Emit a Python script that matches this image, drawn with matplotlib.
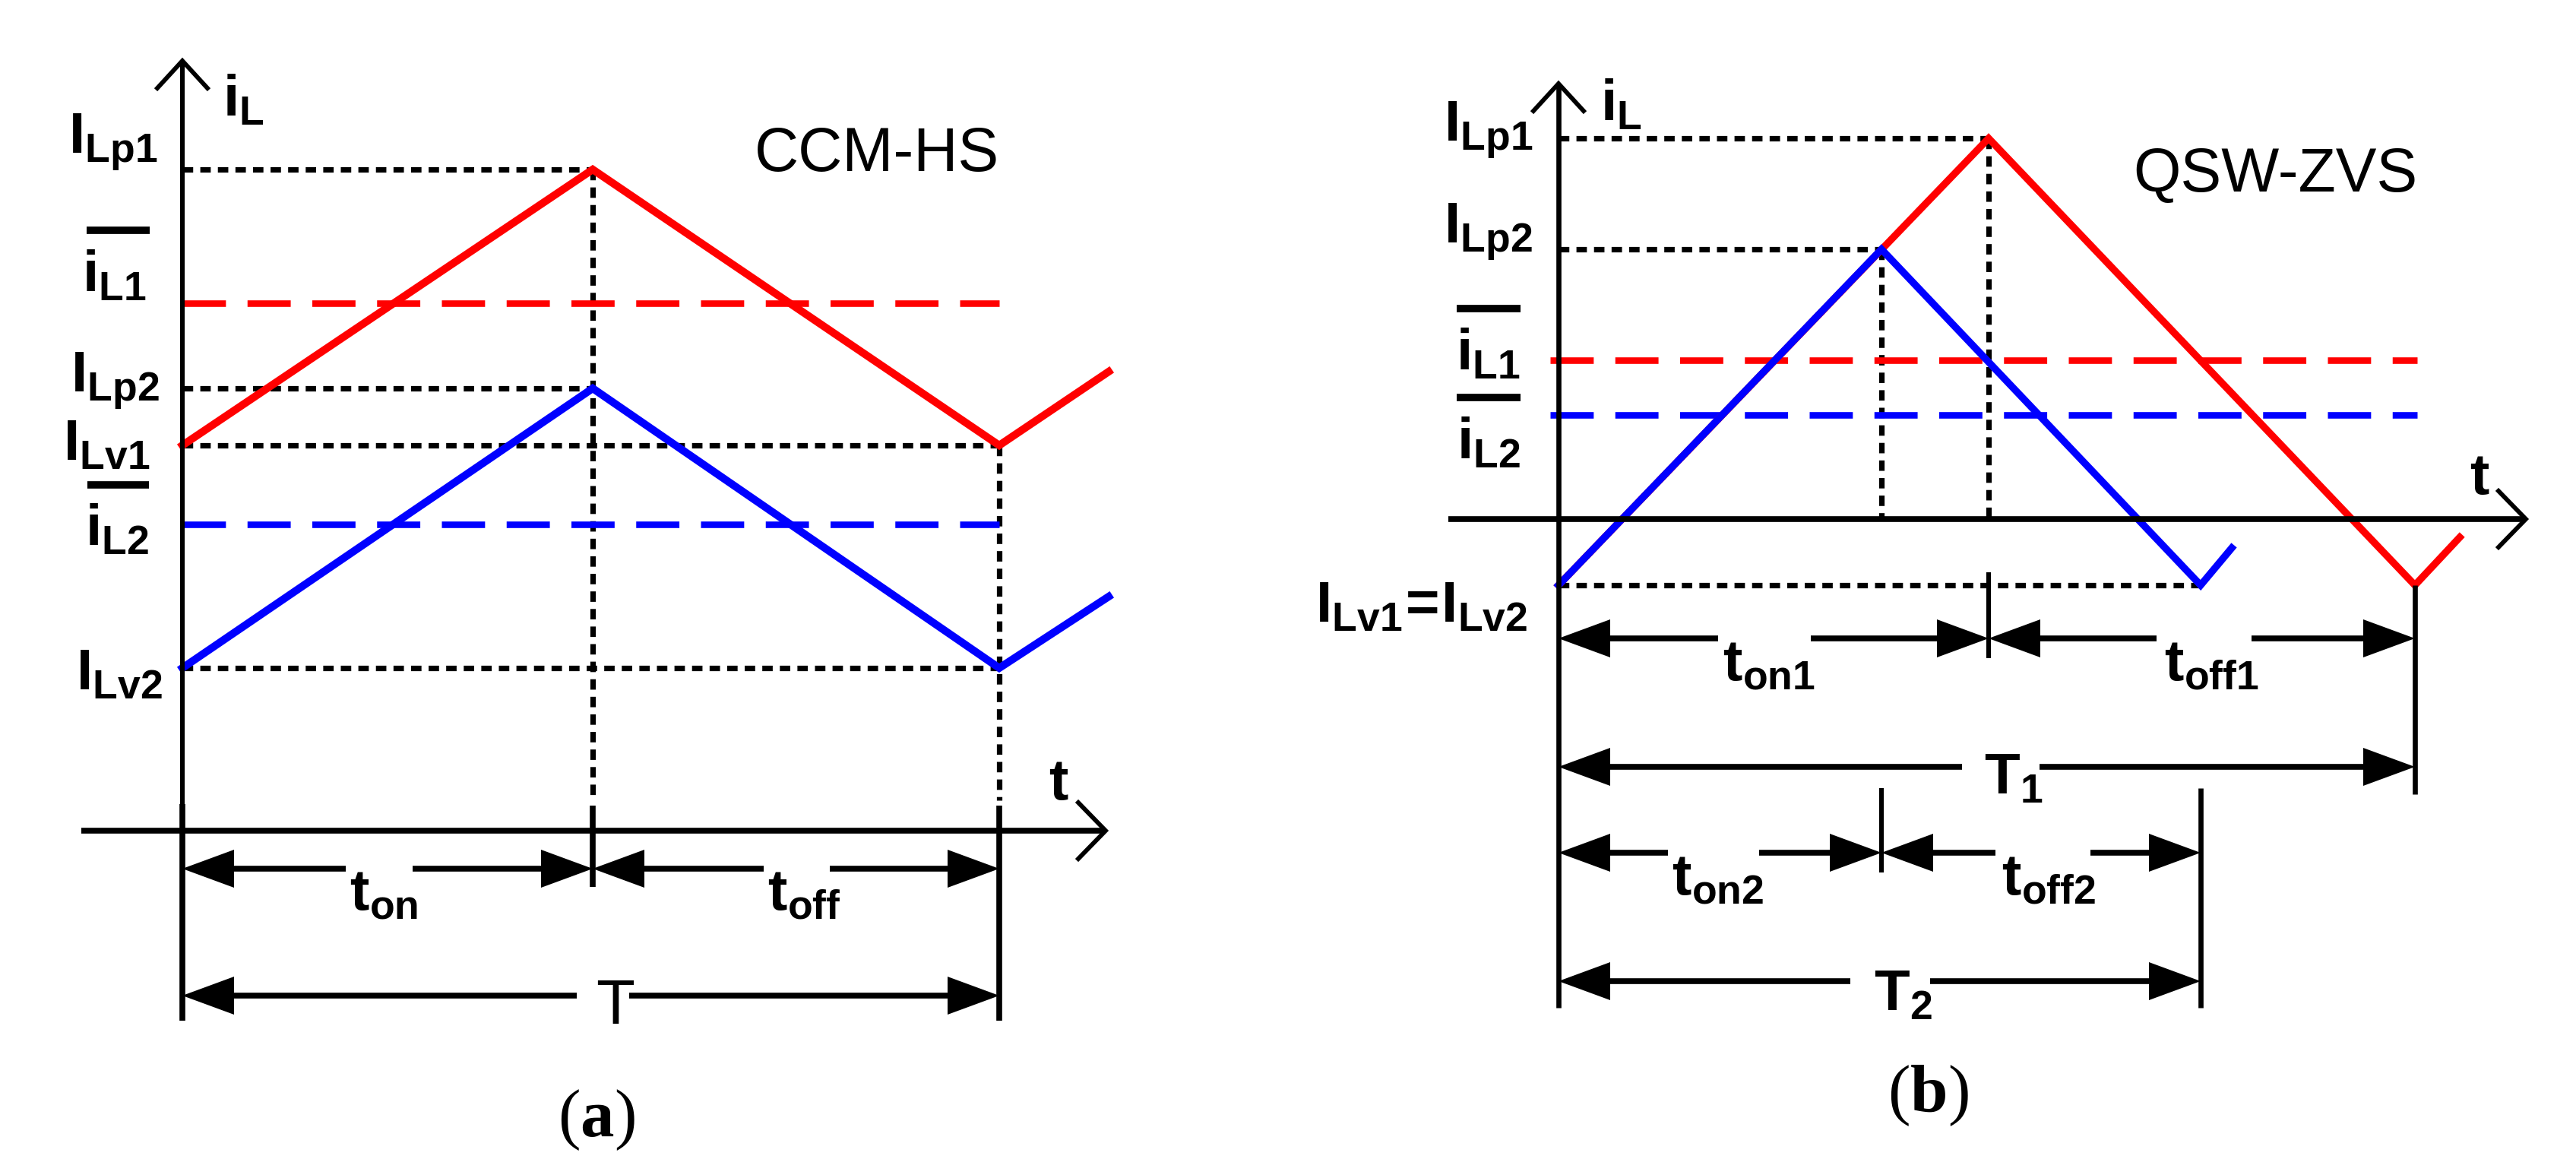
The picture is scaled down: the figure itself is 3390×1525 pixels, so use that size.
import matplotlib
matplotlib.use('Agg')
import matplotlib.pyplot as plt
from matplotlib import font_manager


def has_font(name):
    try:
        font_manager.findfont(font_manager.FontProperties(family=name),
                              fallback_to_default=False)
        return True
    except ValueError:
        return False


NARROW = has_font('Liberation Sans Narrow')
LABEL_FONT = 'Liberation Sans Narrow' if NARROW else 'Liberation Sans'
FS = 60 if NARROW else 55

plt.rcParams['mathtext.fontset'] = 'custom'
plt.rcParams['mathtext.sf'] = LABEL_FONT + ':bold'
plt.rcParams['mathtext.rm'] = 'Liberation Serif'
plt.rcParams['mathtext.bf'] = 'Liberation Serif:bold'
plt.rcParams['mathtext.it'] = LABEL_FONT + ':bold'

# ---- data, in units of the drawing (1 unit = 100 px of the original) ----
# (a) CCM-HS : start, t_on, T, a bit of the next period
a_time = [0.0, 5.40, 10.75, 12.19]
a_red = [5.07, 8.70, 5.07, 6.04]     # I_Lv1 -> I_Lp1 -> I_Lv1
a_blue = [2.14, 5.82, 2.14, 3.08]    # I_Lv2 -> I_Lp2 -> I_Lv2
a_avg = [6.94, 4.03]                 # mean i_L1, mean i_L2
a_labels = [r'$\mathsf{I_{Lp1}}$', r'$\mathsf{I_{Lp2}}$',
            r'$\mathsf{I_{Lv1}}$', r'$\mathsf{I_{Lv2}}$']
a_avg_labels = [r'$\mathsf{i_{L1}}$', r'$\mathsf{i_{L2}}$']

# (b) QSW-ZVS
b_time_red = [0.0, 5.66, 11.27, 11.86]
b_red = [-0.87, 5.01, -0.87, -0.24]
b_time_blue = [0.0, 4.25, 8.45, 8.86]
b_blue = [-0.87, 3.55, -0.87, -0.38]
b_avg = [2.09, 1.37]
b_labels = [r'$\mathsf{I_{Lp1}}$', r'$\mathsf{I_{Lp2}}$',
            r'$\mathsf{I_{Lv1}\!=\!I_{Lv2}}$']
b_avg_labels = [r'$\mathsf{i_{L1}}$', r'$\mathsf{i_{L2}}$']

RED = '#ff0000'
BLUE = '#0000ff'
W, H = 3390, 1525

fig = plt.figure(figsize=(W / 100, H / 100), dpi=100)


def panel_axes(x0, y0):
    # one unit = 100 px, origin at the crossing of the two axes
    ax = fig.add_axes([0, 0, 1, 1])
    ax.set_xlim(-x0 / 100, (W - x0) / 100)
    ax.set_ylim((y0 - H) / 100, y0 / 100)
    ax.axis('off')
    return ax


def solid(ax, xs, ys, lw=5.5):
    ax.plot(xs, ys, color='k', lw=lw, solid_capstyle='butt')


def dotted(ax, xs, ys):
    ax.plot(xs, ys, color='k', lw=5.2, ls=(0, (1.9, 1.3)), dash_capstyle='butt')


def head(ax, x, y, d):
    ax.fill([x, x - d * 0.68, x - d * 0.68], [y, y + 0.25, y - 0.25],
            color='k', lw=0)


def dim(ax, x0, x1, y, g0, g1):
    solid(ax, [x0 + 0.6, g0], [y, y])
    solid(ax, [g1, x1 - 0.6], [y, y])
    head(ax, x0, y, -1)
    head(ax, x1, y, 1)


def axis_arrows(ax, xtip, ytip):
    ax.plot([xtip - 0.36, xtip, xtip - 0.36], [0.37, 0, -0.37],
            color='k', lw=4.2, solid_joinstyle='miter')
    ax.plot([-0.33, 0, 0.33], [ytip - 0.36, ytip, ytip - 0.36],
            color='k', lw=4.2, solid_joinstyle='miter')


def lab(ax, x, y, s, ha='right', va='baseline', size=FS, **kw):
    ax.text(x, y, s, ha=ha, va=va, fontsize=size, color='k', **kw)


def overbar(ax, x0, x1, y):
    ax.plot([x0, x1], [y, y], color='k', lw=7, solid_capstyle='butt')


# ================= (a) =================
ax = panel_axes(240, 1093)
t_on, T = a_time[1], a_time[2]

dotted(ax, [0, t_on], [a_red[1]] * 2)
dotted(ax, [0, t_on], [a_blue[1]] * 2)
dotted(ax, [0, T], [a_red[0]] * 2)
dotted(ax, [0, T], [a_blue[0]] * 2)
dotted(ax, [t_on] * 2, [a_red[1], 0.40])
dotted(ax, [T] * 2, [a_red[2], 0.40])

ax.plot([0, T], [a_avg[0]] * 2, color=RED, lw=6.2, ls=(0, (6.6, 3.3)))
ax.plot([0, T], [a_avg[1]] * 2, color=BLUE, lw=6.2, ls=(0, (6.6, 3.3)))
ax.plot(a_time, a_red, color=RED, lw=7.3, solid_joinstyle='miter')
ax.plot(a_time, a_blue, color=BLUE, lw=7.3, solid_joinstyle='miter')

solid(ax, [0, 0], [0.35, 10.13], lw=4.4)
solid(ax, [0, 0], [0.35, -2.50])
solid(ax, [-1.33, 12.15], [0, 0], lw=5.5)
solid(ax, [t_on] * 2, [0.33, -0.74])
solid(ax, [T] * 2, [0.33, -2.50])
axis_arrows(ax, 12.15, 10.13)

dim(ax, 0, t_on, -0.50, 2.15, 3.03)
dim(ax, t_on, T, -0.50, 7.65, 8.52)
dim(ax, 0, T, -2.17, 5.19, 5.88)

lab(ax, -0.33, 8.92, a_labels[0])
lab(ax, -0.30, 5.78, a_labels[1])
lab(ax, -0.42, 4.88, a_labels[2])
lab(ax, -0.26, 1.86, a_labels[3])
lab(ax, -0.47, 7.10, a_avg_labels[0])
overbar(ax, -1.26, -0.43, 7.90)
lab(ax, -0.44, 3.76, a_avg_labels[1])
overbar(ax, -1.25, -0.44, 4.55)
lab(ax, 0.53, 9.99, r'$\mathsf{i_L}$', ha='left', va='top')
lab(ax, 11.40, 0.41, r'$\mathsf{t}$', ha='left')
lab(ax, 2.20, -0.47, r'$\mathsf{t_{on}}$', ha='left', va='top')
lab(ax, 7.70, -0.47, r'$\mathsf{t_{off}}$', ha='left', va='top')
lab(ax, 5.70, -2.54, 'T', ha='center', family='Liberation Sans', size=60)
lab(ax, 7.53, 8.68, 'CCM-HS', ha='left', family='Liberation Sans', size=58)
lab(ax, 5.45, -3.79, r'$\mathrm{(}\mathbf{a}\mathrm{)}$', ha='center',
    va='center', size=64)

# ================= (b) =================
ax = panel_axes(2051, 683)
t_on1, T1 = b_time_red[1], b_time_red[2]
t_on2, T2 = b_time_blue[1], b_time_blue[2]

dotted(ax, [0, t_on1], [b_red[1]] * 2)
dotted(ax, [t_on1] * 2, [b_red[1], 0])
dotted(ax, [0, t_on2], [b_blue[1]] * 2)
dotted(ax, [t_on2] * 2, [b_blue[1], 0])
dotted(ax, [0, T2], [b_blue[0]] * 2)

ax.plot([-0.11, 11.30], [b_avg[0]] * 2, color=RED, lw=6.2, ls=(0, (6.6, 3.3)))
ax.plot([-0.11, 11.30], [b_avg[1]] * 2, color=BLUE, lw=6.2, ls=(0, (6.6, 3.3)))
ax.plot(b_time_red, b_red, color=RED, lw=6.8, solid_joinstyle='miter')
ax.plot(b_time_blue, b_blue, color=BLUE, lw=6.8, solid_joinstyle='miter')

solid(ax, [0, 0], [5.73, -6.43], lw=4.8)
solid(ax, [-1.45, 12.73], [0, 0], lw=5.5)
solid(ax, [t_on1] * 2, [-0.70, -1.83], lw=4.4)
solid(ax, [T1] * 2, [b_red[2], -3.62], lw=4.8)
solid(ax, [t_on2] * 2, [-3.54, -4.65], lw=4.4)
solid(ax, [T2] * 2, [-3.54, -6.43], lw=4.8)
axis_arrows(ax, 12.73, 5.73)

dim(ax, 0, t_on1, -1.57, 2.10, 3.32)
dim(ax, t_on1, T1, -1.57, 7.87, 9.12)
dim(ax, 0, T1, -3.26, 5.31, 6.33)
dim(ax, 0, t_on2, -4.39, 1.44, 2.64)
dim(ax, t_on2, T2, -4.39, 5.75, 7.00)
dim(ax, 0, T2, -6.08, 3.84, 4.89)

lab(ax, -0.34, 4.98, b_labels[0])
lab(ax, -0.34, 3.64, b_labels[1])
lab(ax, -0.41, -1.35, b_labels[2])
lab(ax, -0.50, 1.97, b_avg_labels[0])
overbar(ax, -1.34, -0.50, 2.77)
lab(ax, -0.50, 0.80, b_avg_labels[1])
overbar(ax, -1.34, -0.50, 1.60)
lab(ax, 0.55, 5.83, r'$\mathsf{i_L}$', ha='left', va='top')
lab(ax, 11.99, 0.33, r'$\mathsf{t}$', ha='left')
lab(ax, 2.16, -1.54, r'$\mathsf{t_{on1}}$', ha='left', va='top')
lab(ax, 7.97, -1.54, r'$\mathsf{t_{off1}}$', ha='left', va='top')
lab(ax, 5.60, -3.61, r'$\mathsf{T_1}$', ha='left')
lab(ax, 1.49, -4.36, r'$\mathsf{t_{on2}}$', ha='left', va='top')
lab(ax, 5.83, -4.36, r'$\mathsf{t_{off2}}$', ha='left', va='top')
lab(ax, 4.15, -6.46, r'$\mathsf{T_2}$', ha='left')
lab(ax, 7.56, 4.31, 'QSW-ZVS', ha='left', family='Liberation Sans', size=58)
lab(ax, 4.86, -7.57, r'$\mathrm{(}\mathbf{b}\mathrm{)}$', ha='center',
    va='center', size=64)

fig.savefig('out.png', dpi=100)
